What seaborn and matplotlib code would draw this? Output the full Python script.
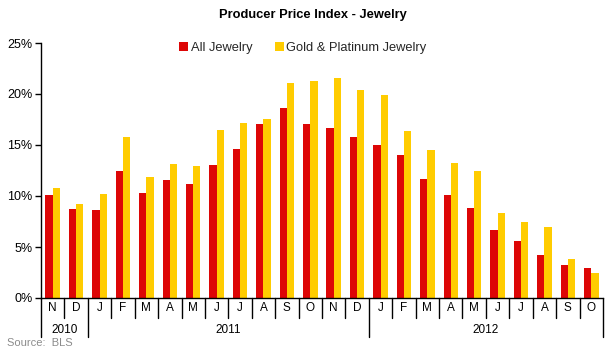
import matplotlib
matplotlib.use("Agg")
import matplotlib.pyplot as plt
import matplotlib.transforms as mtransforms
from matplotlib.ticker import FuncFormatter, MultipleLocator
import pandas as pd
import seaborn as sns

# Monthly year-over-year change, Nov 2010 - Oct 2012
months = ["N", "D", "J", "F", "M", "A", "M", "J", "J", "A", "S", "O", "N", "D",
          "J", "F", "M", "A", "M", "J", "J", "A", "S", "O"]
year_labels = ["2010", "2011", "2012"]
year_spans = [(0, 2), (2, 14), (14, 24)]
all_jewelry = [10.1, 8.7, 8.6, 12.5, 10.3, 11.6, 11.2, 13.0, 14.6, 17.1, 18.6, 17.1,
               16.7, 15.8, 15.0, 14.0, 11.7, 10.1, 8.8, 6.7, 5.6, 4.2, 3.2, 2.9]
gold_platinum = [10.8, 9.2, 10.2, 15.8, 11.9, 13.1, 12.9, 16.5, 17.2, 17.5, 21.1, 21.3,
                 21.6, 20.4, 19.9, 16.4, 14.5, 13.2, 12.5, 8.3, 7.5, 7.0, 3.8, 2.5]
series_names = ["All Jewelry", "Gold & Platinum Jewelry"]
colors = ["#DD0606", "#FFCC00"]

n = len(months)
df = pd.DataFrame({
    "idx": list(range(n)) * 2,
    "value": all_jewelry + gold_platinum,
    "series": [series_names[0]] * n + [series_names[1]] * n,
})

sns.set_theme(style="white")
plt.rcParams["font.family"] = ["Liberation Sans", "DejaVu Sans"]

fig = plt.figure(figsize=(6.07, 3.48), dpi=100)
W, H = 607, 348
ax = fig.add_axes([41 / W, (H - 298) / H, (603 - 41) / W, (298 - 43) / H])

sns.barplot(data=df, x="idx", y="value", hue="series", palette=colors,
            width=0.62, saturation=1, linewidth=0, edgecolor="none",
            ax=ax, legend=True)

ax.set_xlim(-0.5, n - 0.5)
ax.set_ylim(0, 25)
ax.yaxis.set_major_locator(MultipleLocator(5))
ax.yaxis.set_major_formatter(FuncFormatter(lambda v, _: f"{v:.0f}%"))
ax.set_xlabel("")
ax.set_ylabel("")
for s in ["top", "right"]:
    ax.spines[s].set_visible(False)
for s in ["left", "bottom"]:
    ax.spines[s].set_color("black")
    ax.spines[s].set_linewidth(1)
ax.tick_params(axis="y", which="major", left=True, length=4, width=1,
               color="black", labelsize=9, pad=2, labelcolor="black")
ax.tick_params(axis="x", bottom=False, labelbottom=False)

# Two-level category axis: months, then years
trans = mtransforms.blended_transform_factory(ax.transData, ax.transAxes)
px = 1 / 255  # one pixel in axes height units
for i, m in enumerate(months):
    ax.text(i, -10 * px, m, transform=trans, ha="center", va="center",
            fontsize=8.5, color="black")
for i in range(1, n):
    if i in [a for a, _ in year_spans]:
        continue
    ax.plot([i - 0.5, i - 0.5], [0, -20 * px], transform=trans, color="black",
            lw=1, clip_on=False)
for (a, b), label in zip(year_spans, year_labels):
    ax.text((a + b - 1) / 2, -32 * px, label, transform=trans, ha="center",
            va="center", fontsize=8.5, color="black")
for edge in sorted({a for a, _ in year_spans} | {year_spans[-1][1]}):
    ax.plot([edge - 0.5, edge - 0.5], [0, -39 * px], transform=trans,
            color="black", lw=1, clip_on=False)

ax.legend(loc="center", bbox_to_anchor=(303 / W, (H - 48) / H),
          bbox_transform=fig.transFigure, ncol=2, frameon=False, fontsize=9.3,
          handlelength=0.7, handleheight=0.7, handletextpad=0.2,
          columnspacing=1.7, borderpad=0)

fig.text(313 / W, (H - 15) / H, "Producer Price Index - Jewelry", ha="center",
         va="center", fontsize=9.3, fontweight="bold", color="black")
fig.text(7 / W, (H - 343) / H, "Source:  BLS", ha="left", va="center",
         fontsize=8, color="#8C8C8C")

fig.savefig("out.png", dpi=100)
